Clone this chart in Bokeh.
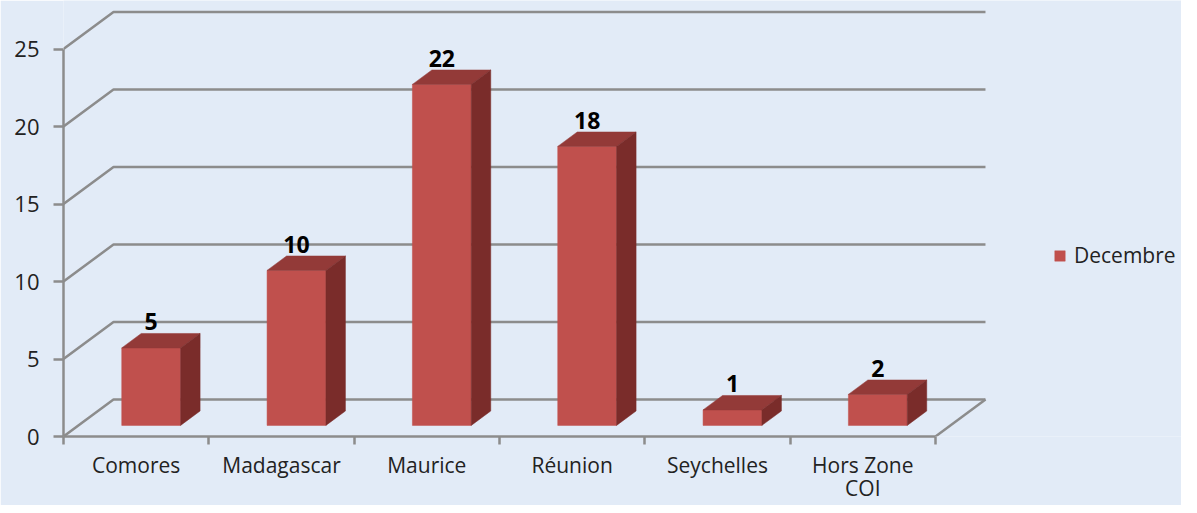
from bokeh.plotting import figure
from bokeh.models import Range1d, FixedTicker, Legend, LegendItem, ColumnDataSource
from bokeh.core.properties import value
from bokeh.embed import file_html
from bokeh.resources import INLINE

# ---- data ----
categories = ["Comores", "Madagascar", "Maurice", "Réunion", "Seychelles", "Hors Zone\nCOI"]
values = [5, 10, 22, 18, 1, 2]
series_name = "Decembre"
y_ticks = [0, 5, 10, 15, 20, 25]

# ---- style / projection constants ----
FONT = "Open Sans"
BG = "#E2EBF7"
GRID = "#8C8C8C"
C_FRONT = "#C0504D"
C_TOP = "#933A38"
C_SIDE = "#7A2C2A"
PX_X = 145.33   # px per category
PX_Y = 15.5     # px per unit
DX = 50 / PX_X  # depth offset (x, data units)
DY = 37 / PX_Y  # depth offset (y, data units)
BAR_W = 0.405
F1, F2 = 0.30, 0.69  # bar front/back depth fractions

W, H = 1181, 505
LEFT, BOTTOM = 63, 69
n = len(categories)

p = figure(width=W, height=H, output_backend="svg", toolbar_location=None,
           x_range=Range1d(0, (W - LEFT) / PX_X), y_range=Range1d(0, (H - BOTTOM) / PX_Y),
           min_border_left=LEFT, min_border_right=0, min_border_top=0, min_border_bottom=BOTTOM)
p.background_fill_color = BG
p.border_fill_color = BG
p.outline_line_color = None
p.xgrid.visible = False
p.ygrid.visible = False

# ---- 3D walls / gridlines ----
gx = [[0, DX, n + DX] for v in y_ticks]
gy = [[v, v + DY, v + DY] for v in y_ticks]
gx.append([n, n + DX])
gy.append([0, DY])
p.multi_line(gx, gy, line_color=GRID, line_width=2.5)

# ---- bars ----
fx, fy, tx, ty, sx, sy = [], [], [], [], [], []
for i, v in enumerate(values):
    cx = i + 0.5
    xl, xr = cx - BAR_W / 2, cx + BAR_W / 2
    ax, ay = F1 * DX, F1 * DY
    bx, by = F2 * DX, F2 * DY
    fx.append([xl + ax, xr + ax, xr + ax, xl + ax])
    fy.append([ay, ay, v + ay, v + ay])
    tx.append([xl + ax, xr + ax, xr + bx, xl + bx])
    ty.append([v + ay, v + ay, v + by, v + by])
    sx.append([xr + ax, xr + bx, xr + bx, xr + ax])
    sy.append([ay, by, v + by, v + ay])

front = p.patches(fx, fy, fill_color=C_FRONT, line_color=C_FRONT, line_width=0.5)
p.patches(tx, ty, fill_color=C_TOP, line_color=C_TOP, line_width=0.5)
p.patches(sx, sy, fill_color=C_SIDE, line_color=C_SIDE, line_width=0.5)

lab = ColumnDataSource(dict(
    x=[i + 0.5 + F1 * DX for i in range(n)],
    y=[v + F2 * DY for v in values],
    t=[str(v) for v in values]))
p.text("x", "y", text="t", source=lab, text_align="center", text_baseline="bottom",
       y_offset=-3, text_font=value(FONT), text_font_style="bold",
       text_font_size="23px", text_color="#000000")

# ---- axes ----
ya = p.yaxis[0]
ya.ticker = FixedTicker(ticks=y_ticks)
ya.bounds = (0, 25)
ya.axis_line_color = GRID
ya.axis_line_width = 2.5
ya.major_tick_line_color = GRID
ya.major_tick_line_width = 2.5
ya.major_tick_out = 10
ya.major_tick_in = 0
ya.minor_tick_line_color = None
ya.major_label_standoff = 14
ya.major_label_text_font = FONT
ya.major_label_text_font_size = "22px"
ya.major_label_text_color = "#222222"

xa = p.xaxis[0]
centers = [i + 0.5 for i in range(n)]
xa.ticker = FixedTicker(ticks=centers, minor_ticks=list(range(n + 1)))
xa.bounds = (0, n)
xa.major_label_overrides = {c: lbl for c, lbl in zip(centers, categories)}
xa.axis_line_color = GRID
xa.axis_line_width = 2.5
xa.major_tick_line_color = None
xa.major_tick_out = 0
xa.major_tick_in = 0
xa.minor_tick_line_color = GRID
xa.minor_tick_line_width = 2.5
xa.minor_tick_out = 8
xa.minor_tick_in = 0
xa.major_label_standoff = 6
xa.major_label_text_font = FONT
xa.major_label_text_font_size = "21px"
xa.major_label_text_line_height = 0.85
xa.major_label_text_color = "#222222"

# ---- legend ----
legend = Legend(items=[LegendItem(label=series_name, renderers=[front])],
                location=(990, 167), padding=0, margin=0, spacing=0,
                glyph_width=13, glyph_height=13, label_standoff=8,
                label_text_font=FONT, label_text_font_size="21px",
                label_text_color="#222222",
                border_line_color=None, background_fill_alpha=0)
p.add_layout(legend)

open("out.html", "w").write(file_html(p, INLINE))
